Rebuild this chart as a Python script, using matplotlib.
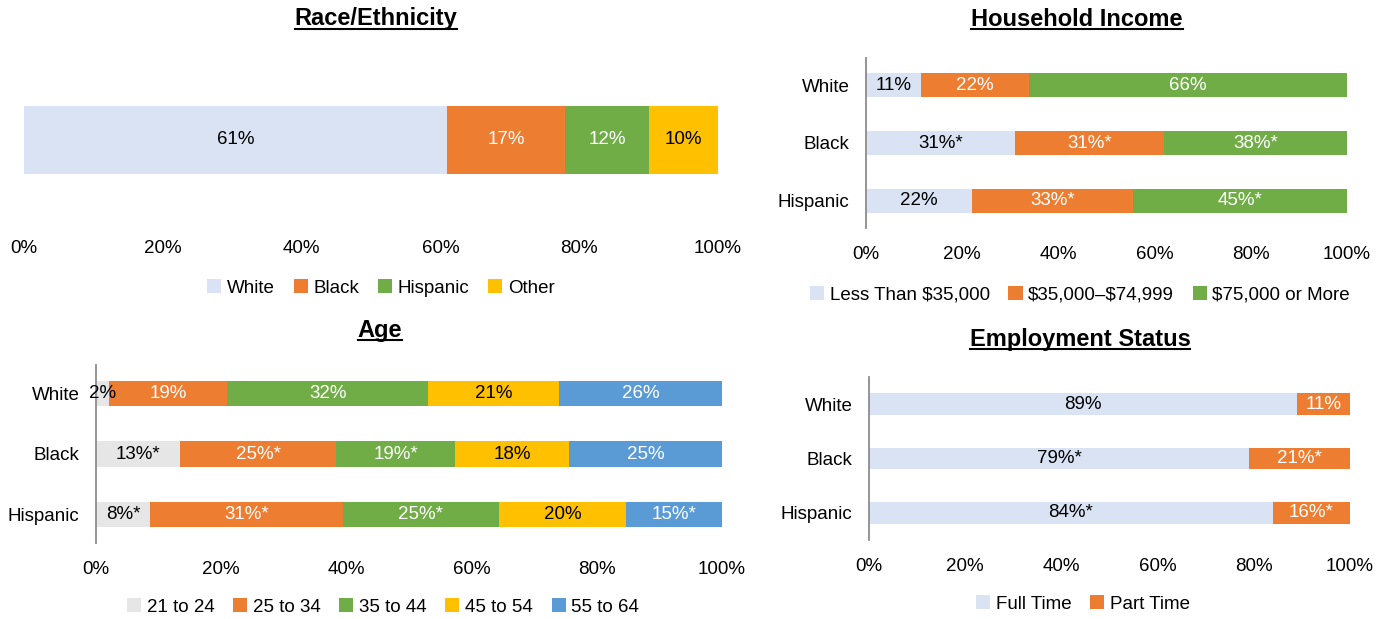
import matplotlib.pyplot as plt
from matplotlib.lines import Line2D

plt.rcParams['font.family'] = ['Liberation Sans', 'DejaVu Sans']

# ---- data ----
race_names = ['White', 'Black', 'Hispanic', 'Other']
race_vals = [61, 17, 12, 10]
race_lbls = ['61%', '17%', '12%', '10%']

rows = ['White', 'Black', 'Hispanic']

inc_names = ['Less Than \\$35,000', '\\$35,000–\\$74,999', '\\$75,000 or More']
inc_less = [11.4, 31, 22]
inc_mid = [22.5, 31, 33.5]
inc_more = [66.1, 38, 44.5]
inc_less_lbl = ['11%', '31%*', '22%']
inc_mid_lbl = ['22%', '31%*', '33%*']
inc_more_lbl = ['66%', '38%*', '45%*']

age_names = ['21 to 24', '25 to 34', '35 to 44', '45 to 54', '55 to 64']
age_21 = [2, 13.4, 8.6]
age_25 = [19, 25, 30.8]
age_35 = [32, 19, 25]
age_45 = [21, 18.2, 20.3]
age_55 = [26, 24.4, 15.3]
age_21_lbl = ['2%', '13%*', '8%*']
age_25_lbl = ['19%', '25%*', '31%*']
age_35_lbl = ['32%', '19%*', '25%*']
age_45_lbl = ['21%', '18%', '20%']
age_55_lbl = ['26%', '25%', '15%*']

emp_names = ['Full Time', 'Part Time']
emp_full = [89, 79, 84]
emp_part = [11, 21, 16]
emp_full_lbl = ['89%', '79%*', '84%*']
emp_part_lbl = ['11%', '21%*', '16%*']

LBLUE = '#dae3f3'
ORANGE = '#ed7d31'
GREEN = '#70ad47'
YELLOW = '#ffc000'
BLUE = '#5b9bd5'
GRAY = '#e7e6e6'

W, H = 1390, 619
fig = plt.figure(figsize=(W / 100, H / 100), dpi=100)
FS = 13.5


def px_axes(left, right, top, bottom):
    return fig.add_axes([left / W, 1 - bottom / H, (right - left) / W, (bottom - top) / H])


def style(ax, show_left=True):
    ax.set_xlim(0, 100)
    ax.set_xticks(range(0, 101, 20))
    ax.set_xticklabels([f'{v}%' for v in range(0, 101, 20)], fontsize=FS)
    ax.tick_params(length=0, axis='x', pad=13)
    ax.tick_params(length=0, axis='y', pad=12, labelsize=FS)
    for s in ['top', 'right', 'bottom']:
        ax.spines[s].set_visible(False)
    if show_left:
        ax.spines['left'].set_color('#8c8c8c')
        ax.spines['left'].set_linewidth(1.3)
    else:
        ax.spines['left'].set_visible(False)


def stacked(ax, ypos, series, height):
    left = [0] * len(ypos)
    for name, vals, lbls, col, tcol in series:
        bars = ax.barh(ypos, vals, left=left, height=height, color=col, label=name)
        ax.bar_label(bars, labels=lbls, label_type='center', color=tcol, fontsize=FS)
        left = [a + b for a, b in zip(left, vals)]


def legend(ax, x, y, ncol):
    h, l = ax.get_legend_handles_labels()
    fig.legend(h, l, loc='center', bbox_to_anchor=(x / W, 1 - y / H), ncol=ncol,
               frameon=False, fontsize=FS, handlelength=0.75, handleheight=0.75,
               handletextpad=0.3, columnspacing=1.0)


titles = []


def title(text, x, y):
    t = fig.text(x / W, 1 - y / H, text, ha='center', va='center',
                 fontsize=17, fontweight='bold')
    titles.append(t)


# ---- Race/Ethnicity ----
ax1 = px_axes(24, 718, 58, 222)
stacked(ax1, [0], [(n, [v], [l], c, tc) for n, v, l, c, tc in zip(
    race_names, race_vals, race_lbls,
    [LBLUE, ORANGE, GREEN, YELLOW], ['black', 'white', 'white', 'black'])], 0.82)
ax1.set_ylim(-1, 1)
ax1.set_yticks([])
style(ax1, show_left=False)
legend(ax1, 381, 288, 4)
title('Race/Ethnicity', 376, 19)

# ---- Household Income ----
ax2 = px_axes(866, 1347, 58, 228)
stacked(ax2, [0, 1, 2], [
    (inc_names[0], inc_less, inc_less_lbl, LBLUE, 'black'),
    (inc_names[1], inc_mid, inc_mid_lbl, ORANGE, 'white'),
    (inc_names[2], inc_more, inc_more_lbl, GREEN, 'white'),
], 0.42)
ax2.set_ylim(2.47, -0.47)
ax2.set_yticks([0, 1, 2])
ax2.set_yticklabels(rows)
style(ax2)
legend(ax2, 1080, 295, 3)
title('Household Income', 1077, 19)

# ---- Age ----
ax3 = px_axes(96, 722, 365, 543)
stacked(ax3, [0, 1, 2], [
    (age_names[0], age_21, age_21_lbl, GRAY, 'black'),
    (age_names[1], age_25, age_25_lbl, ORANGE, 'white'),
    (age_names[2], age_35, age_35_lbl, GREEN, 'white'),
    (age_names[3], age_45, age_45_lbl, YELLOW, 'black'),
    (age_names[4], age_55, age_55_lbl, BLUE, 'white'),
], 0.42)
ax3.set_ylim(2.48, -0.48)
ax3.set_yticks([0, 1, 2])
ax3.set_yticklabels(rows)
style(ax3)
legend(ax3, 383, 607, 5)
title('Age', 380, 330)

# ---- Employment Status ----
ax4 = px_axes(869, 1350, 377, 540)
stacked(ax4, [0, 1, 2], [
    (emp_names[0], emp_full, emp_full_lbl, LBLUE, 'black'),
    (emp_names[1], emp_part, emp_part_lbl, ORANGE, 'white'),
], 0.40)
ax4.set_ylim(2.5, -0.5)
ax4.set_yticks([0, 1, 2])
ax4.set_yticklabels(rows)
style(ax4)
legend(ax4, 1083, 604, 2)
title('Employment Status', 1080, 340)

# underline the titles
fig.canvas.draw()
inv = fig.transFigure.inverted()
for t in titles:
    bb = t.get_window_extent()
    y = bb.y0 + 2
    (x0, yf), (x1, _) = inv.transform([(bb.x0, y), (bb.x1, y)])
    fig.add_artist(Line2D([x0, x1], [yf, yf], transform=fig.transFigure,
                          color='black', linewidth=1.5))

fig.savefig('out.png', dpi=100)
